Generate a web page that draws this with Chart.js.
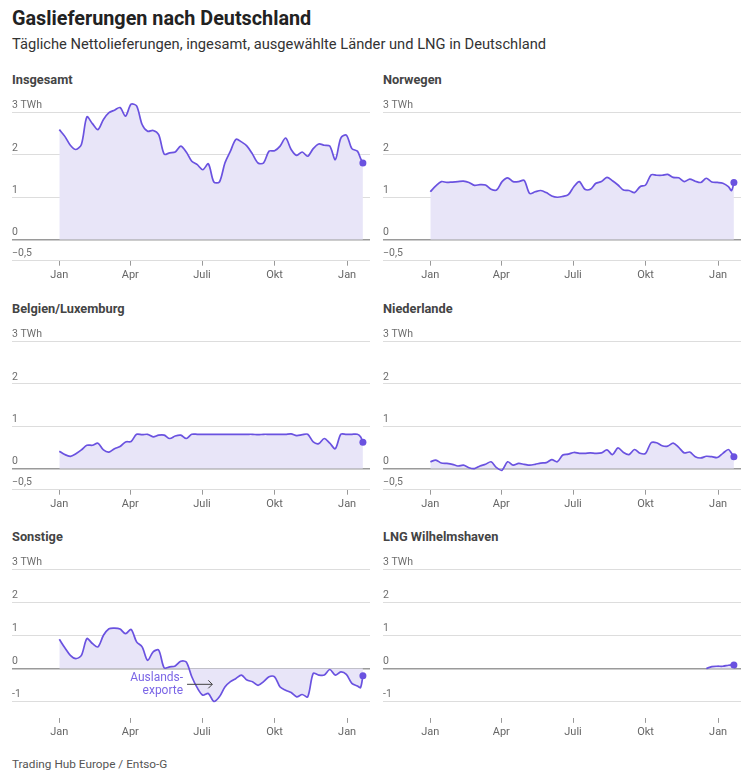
<!DOCTYPE html>
<html lang="de">
<head>
<meta charset="utf-8">
<script src="https://cdn.jsdelivr.net/npm/chart.js@4.4.0/dist/chart.umd.min.js"></script>
<style>
  body { margin: 0; background: #fff; font-family: Roboto, "Noto Sans", sans-serif; }
  #wrap { position: relative; width: 755px; height: 782px; overflow: hidden; }
  h1 { position: absolute; left: 12px; top: 7px; margin: 0; font-size: 19.8px; font-weight: 700; color: #222; }
  .sub { position: absolute; left: 12px; top: 35px; font-size: 14.7px; color: #333; }
  .ptitle { position: absolute; font-size: 12.8px; font-weight: 700; color: #444; }
  canvas { position: absolute; }
  .src { position: absolute; left: 12px; top: 757px; font-size: 11.8px; color: #555; }
</style>
</head>
<body>
<div id="wrap">
  <h1>Gaslieferungen nach Deutschland</h1>
  <div class="sub">Tägliche Nettolieferungen, ingesamt, ausgewählte Länder und LNG in Deutschland</div>
  <div class="src">Trading Hub Europe / Entso-G</div>
</div>
<script>
// Tage seit 1. Januar 2022
const tage = [0,7,14,21,28,35,42,49,56,63,70,77,84,91,98,105,112,119,126,133,140,147,154,161,168,175,182,189,196,203,210,217,224,231,238,245,252,259,266,273,280,287,294,301,308,315,322,329,336,343,350,357,364,371,378,382,385]

const monate = [0, 90, 181, 273, 365]
const monatLabels = ['Jan', 'Apr', 'Juli', 'Okt', 'Jan']

const insgesamt = [2.60,2.44,2.23,2.13,2.25,2.90,2.74,2.60,2.84,3.00,
  3.06,3.12,2.92,3.20,3.16,2.72,2.56,2.58,2.48,2.02,
  2.05,2.07,2.21,2.07,1.85,1.77,1.65,1.79,1.36,1.36,
  1.81,2.09,2.37,2.31,2.21,2.02,1.81,1.81,2.09,2.10,
  2.21,2.40,2.13,1.99,2.07,1.97,2.15,2.26,2.23,2.21,
  1.89,2.40,2.47,2.15,2.09,1.92,1.81]

const norwegen = [1.13,1.27,1.37,1.35,1.36,1.37,1.38,1.35,1.28,1.30,
  1.29,1.19,1.17,1.37,1.46,1.37,1.37,1.40,1.09,1.13,
  1.16,1.11,1.03,1.00,1.02,1.06,1.25,1.37,1.19,1.19,
  1.33,1.37,1.47,1.39,1.29,1.17,1.16,1.11,1.25,1.29,
  1.53,1.52,1.52,1.54,1.47,1.46,1.37,1.43,1.38,1.35,
  1.45,1.36,1.35,1.33,1.25,1.16,1.35]

const belgien = [0.41,0.33,0.29,0.35,0.44,0.55,0.55,0.60,0.44,0.39,
  0.47,0.52,0.63,0.64,0.81,0.80,0.81,0.75,0.79,0.79,
  0.71,0.77,0.79,0.71,0.81,0.81,0.81,0.81,0.81,0.81,
  0.81,0.81,0.81,0.81,0.81,0.81,0.80,0.81,0.81,0.81,
  0.81,0.81,0.82,0.78,0.80,0.81,0.63,0.59,0.71,0.60,
  0.47,0.81,0.81,0.81,0.81,0.75,0.62]

const niederlande = [0.16,0.20,0.13,0.12,0.10,0.06,0.08,0.02,0.00,0.06,
  0.10,0.16,0.02,-0.04,0.16,0.08,0.12,0.10,0.08,0.10,
  0.13,0.14,0.21,0.16,0.32,0.34,0.38,0.36,0.36,0.37,
  0.36,0.37,0.44,0.33,0.49,0.38,0.33,0.45,0.36,0.36,
  0.61,0.61,0.54,0.53,0.60,0.50,0.37,0.39,0.28,0.25,
  0.29,0.28,0.26,0.36,0.45,0.36,0.28]

const sonstige = [0.89,0.63,0.40,0.30,0.40,0.91,0.76,0.66,1.01,1.21,
  1.23,1.20,1.06,1.19,0.81,0.66,0.25,0.51,0.56,0.02,
  0.05,0.08,0.22,0.20,-0.25,-0.59,-0.81,-0.76,-1.00,-0.86,
  -0.56,-0.40,-0.30,-0.20,-0.35,-0.40,-0.51,-0.40,-0.25,-0.25,
  -0.56,-0.66,-0.73,-0.86,-0.79,-0.86,-0.15,-0.20,-0.20,-0.03,
  -0.20,-0.10,-0.18,-0.45,-0.53,-0.58,-0.22]

const lng = [null,null,null,null,null,null,null,null,null,null,
  null,null,null,null,null,null,null,null,null,null,
  null,null,null,null,null,null,null,null,null,null,
  null,null,null,null,null,null,null,null,null,null,
  null,null,null,null,null,null,null,null,null,null,
  0,0.06,0.07,0.07,0.10,0.11,0.11]

const yTicksOben = [-0.5, 0, 1, 2, 3]
const yTicksUnten = [-1, 0, 1, 2, 3]

const lila = '#6a52e0'
const flaeche = '#e8e5f8'

const panels = [
  { titel: 'Insgesamt', werte: insgesamt, x: 12, top: 113, min: -0.5, ticks: yTicksOben },
  { titel: 'Norwegen', werte: norwegen, x: 383, top: 113, min: -0.5, ticks: yTicksOben },
  { titel: 'Belgien/Luxemburg', werte: belgien, x: 12, top: 342, min: -0.5, ticks: yTicksOben },
  { titel: 'Niederlande', werte: niederlande, x: 383, top: 342, min: -0.5, ticks: yTicksOben },
  { titel: 'Sonstige', werte: sonstige, x: 12, top: 570, min: -1.5, ticks: yTicksUnten, notiz: true },
  { titel: 'LNG Wilhelmshaven', werte: lng, x: 383, top: 570, min: -1.5, ticks: yTicksUnten }
]

const yMax = 3.3
const flaecheHoehe = 148   // Hoehe von 3 bis zum unteren Rand
const achseHoehe = 22

const tickLabel = (v) => {
  if (v === 3) return '3 TWh'
  if (v === -0.5) return '\u22120,5'
  return String(v)
}

// Beschriftung "Auslands-exporte" mit Pfeil
const notizPlugin = {
  id: 'notiz',
  afterDatasetsDraw(chart) {
    if (!chart.options.plugins.notiz.an) return
    const { ctx, scales: { x, y } } = chart
    ctx.save()
    ctx.font = '12px Roboto, sans-serif'
    ctx.fillStyle = '#7b66e6'
    ctx.textAlign = 'right'
    ctx.textBaseline = 'middle'
    ctx.fillText('Auslands-', x.getPixelForValue(157), y.getPixelForValue(-0.29))
    ctx.fillText('exporte', x.getPixelForValue(157), y.getPixelForValue(-0.68))
    const x0 = x.getPixelForValue(162), x1 = x.getPixelForValue(194), yy = y.getPixelForValue(-0.48)
    ctx.strokeStyle = '#444'
    ctx.lineWidth = 1
    ctx.beginPath()
    ctx.moveTo(x0, yy); ctx.lineTo(x1, yy)
    ctx.moveTo(x1 - 4, yy - 4); ctx.lineTo(x1, yy); ctx.lineTo(x1 - 4, yy + 4)
    ctx.stroke()
    ctx.restore()
  }
}

const wrap = document.getElementById('wrap')

panels.forEach((p) => {
  const t = document.createElement('div')
  t.className = 'ptitle'
  t.style.left = p.x + 'px'
  t.style.top = (p.top - 41) + 'px'
  t.textContent = p.titel
  wrap.appendChild(t)

  // Platz oberhalb der 3-TWh-Linie fuer Werte ueber 3
  const extra = (yMax - 3) * flaecheHoehe / (3 - p.min)
  const hoehe = Math.ceil(14 + extra + flaecheHoehe + achseHoehe + 2)

  const c = document.createElement('canvas')
  c.width = 358
  c.height = hoehe
  c.style.left = p.x + 'px'
  c.style.top = (p.top - 14 - extra) + 'px'
  wrap.appendChild(c)

  const letzter = p.werte.length - 1

  new Chart(c, {
    type: 'line',
    data: {
      labels: tage,
      datasets: [{
        data: tage.map((d, i) => ({ x: d, y: p.werte[i] })),
        borderColor: lila,
        borderWidth: 1.7,
        backgroundColor: flaeche,
        fill: 'origin',
        tension: 0.3,
        spanGaps: false,
        pointRadius: (ctx) => ctx.dataIndex === letzter ? 3.5 : 0,
        pointBackgroundColor: lila,
        pointBorderWidth: 0
      }]
    },
    options: {
      responsive: false,
      animation: false,
      layout: {
        autoPadding: false,
        padding: { top: 14, bottom: hoehe - 14 - extra - flaecheHoehe - achseHoehe, left: 0, right: 0 }
      },
      plugins: { legend: { display: false }, tooltip: { enabled: false }, notiz: { an: !!p.notiz } },
      scales: {
        x: {
          type: 'linear',
          min: -60,
          max: 394,
          afterBuildTicks: (axis) => { axis.ticks = monate.map(v => ({ value: v })) },
          afterFit: (axis) => { axis.height = achseHoehe },
          border: { display: false },
          grid: { drawOnChartArea: false, tickLength: 5, color: '#999' },
          ticks: {
            padding: 3,
            color: '#666',
            font: { size: 11, family: 'Roboto' },
            maxRotation: 0,
            callback: (v) => monatLabels[monate.indexOf(v)]
          }
        },
        y: {
          min: p.min,
          max: yMax,
          afterBuildTicks: (axis) => { axis.ticks = p.ticks.map(v => ({ value: v })) },
          border: { display: false },
          grid: {
            drawTicks: false,
            color: (ctx) => ctx.tick && ctx.tick.value === 0 ? '#9a9a9a' : '#dddddd',
            lineWidth: (ctx) => ctx.tick && ctx.tick.value === 0 ? 1.5 : 1
          },
          ticks: {
            mirror: true,
            padding: 0,
            labelOffset: -7,
            color: '#6e6e6e',
            font: { size: 10.5, family: 'Roboto' },
            callback: tickLabel
          }
        }
      }
    },
    plugins: [notizPlugin]
  })
})
</script>
</body>
</html>
